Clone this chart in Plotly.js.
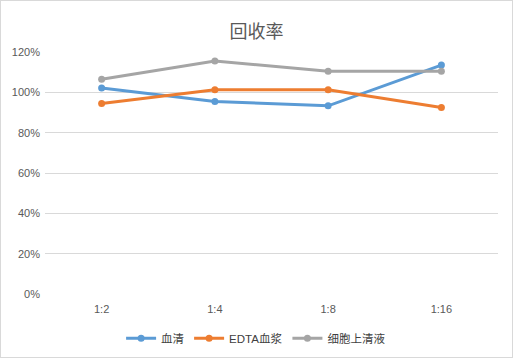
<!DOCTYPE html>
<html><head><meta charset="utf-8">
<script src="https://cdn.plot.ly/plotly-3.0.1.min.js"></script>
<style>
html,body{margin:0;padding:0;background:#fff;}
#wrap{width:511px;height:356px;border:1px solid #d9d9d9;}
#chart{width:511px;height:356px;}
</style></head>
<body><div id="wrap"><div id="chart"></div></div>
<script>
const categories = ["1:2","1:4","1:8","1:16"];
const serum = [1.022, 0.955, 0.933, 1.135];
const edtaPlasma = [0.945, 1.013, 1.013, 0.925];
const cellSupernatant = [1.065, 1.155, 1.105, 1.105];
const seriesNames = ["血清","EDTA血浆","细胞上清液"];
const colors = ["#5b9bd5","#ed7d31","#a5a5a5"];
const yTicks = [0,0.2,0.4,0.6,0.8,1.0,1.2];
const yTickText = ["0%","20%","40%","60%","80%","100%","120%"];

const font = "Liberation Sans, Noto Sans CJK SC, sans-serif";
const data = [serum, edtaPlasma, cellSupernatant].map((v,i)=>({
  type:'scatter', mode:'lines+markers', x:categories, y:v, name:seriesNames[i],
  line:{color:colors[i], width:3}, marker:{color:colors[i], size:7}
}));
const layout = {
  width:511, height:356,
  margin:{l:44, r:14, t:50.5, b:63, autoexpand:false},
  paper_bgcolor:'#fff', plot_bgcolor:'#fff',
  font:{family:font, size:11, color:'#595959'},
  title:{text:'回收率', font:{family:'Noto Sans CJK SC, sans-serif', size:18, color:'#595959'}, x:0.5, xanchor:'center', y:0.913, yanchor:'middle'},
  xaxis:{type:'category', range:[-0.5,3.5], showgrid:false, zeroline:false, showline:false, ticks:'', ticklabelstandoff:7, tickfont:{size:11, color:'#595959'}},
  yaxis:{range:[0,1.2], tickvals:yTicks, ticktext:yTickText, showgrid:true, gridcolor:'#d9d9d9', gridwidth:1, zeroline:false, showline:false, ticks:'', ticklabelstandoff:4, tickfont:{size:11, color:'#595959'}},
  showlegend:true,
  legend:{orientation:'h', x:0.466, xanchor:'center', y:-0.183, yanchor:'middle', font:{family:font, size:11.5, color:'#404040'}, itemwidth:30, tracegroupgap:0},
  hovermode:false
};
Plotly.newPlot('chart', data, layout, {displayModeBar:false, staticPlot:true});
</script></body></html>
